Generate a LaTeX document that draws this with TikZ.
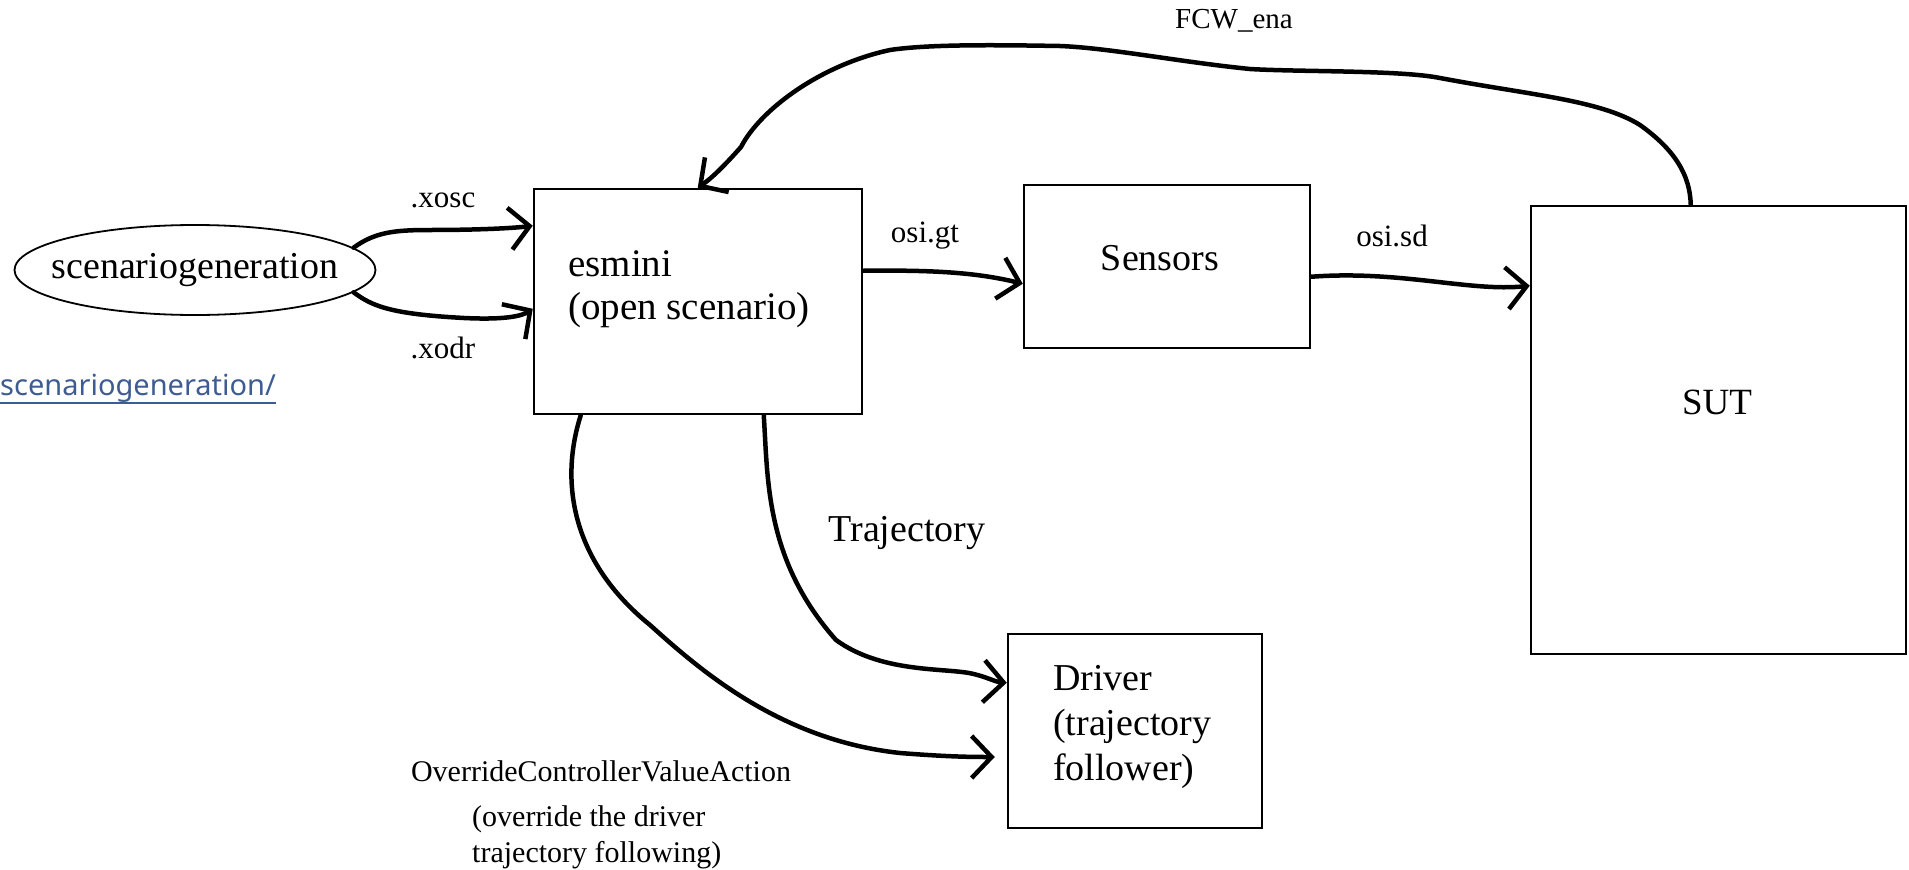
\documentclass[tikz,border=0pt]{standalone}
\usepackage{fontspec}
\setmainfont{Liberation Serif}
\newfontfamily\linkfont{Noto Sans}
\usetikzlibrary{shapes.geometric,arrows.meta,calc}
\definecolor{linkblue}{HTML}{3E5C91}

\begin{document}
\begin{tikzpicture}[x=1pt,y=-1pt,
    box/.style={draw, line width=2.5pt, inner sep=0pt},
    lbl/.style={inner sep=0pt, font=\fontsize{31}{37}\selectfont},
    boxtxt/.style={inner sep=0pt, align=left, font=\fontsize{38}{45}\selectfont},
    conn/.style={line width=4.5pt, line cap=round, line join=round,
                 -{Straight Barb[length=20pt,width=42pt]}}]
\useasboundingbox (0,0) rectangle (1909,870);

% the blocks
\node[draw, ellipse, line width=1.8pt, minimum width=361pt, minimum height=90pt,
      inner sep=0pt] (scen) at (195,270) {};
\node[box, minimum width=328pt, minimum height=225pt] (esmini) at (698,301.5) {};
\node[box, minimum width=286pt, minimum height=163pt] (sensors) at (1167,266.5) {};
\node[box, minimum width=375pt, minimum height=448pt] (sut) at (1718.5,430) {};
\node[box, minimum width=254pt, minimum height=194pt] (driver) at (1135,731) {};

% texts in the blocks
\node[boxtxt] (scentxt) at (scen.center) {scenariogeneration};
\node[boxtxt, anchor=west, font=\fontsize{39}{43}\selectfont] (esminitxt) at (568,289) {esmini\\(open scenario)};
\node[boxtxt] (sensorstxt) at (1160,258) {Sensors};
\node[boxtxt, font=\fontsize{37}{44}\selectfont] (suttxt) at (1717,402) {SUT};
\node[boxtxt, anchor=west] (drivertxt) at (1053,727) {Driver\\(trajectory\\follower)};

% link below the ellipse
\node[anchor=west, inner sep=0pt, text=linkblue, font=\linkfont\fontsize{29}{34}\selectfont] (link) at (0,388) {scenariogeneration/};
\draw[linkblue, line width=1.6pt] ([yshift=-8pt]link.base west) -- ([yshift=-8pt]link.base east);

% connector labels
\node[lbl] (xosc) at (443,200) {.xosc};
\node[lbl] (xodr) at (443,348) {.xodr};
\node[lbl] (osigt) at (925,236) {osi.gt};
\node[lbl] (osisd) at (1392,236) {osi.sd};
\node[lbl, font=\fontsize{29}{34}\selectfont] (fcw) at (1234,21) {FCW\_ena};
\node[lbl, font=\fontsize{38}{45}\selectfont] (traj) at (907,533) {Trajectory};
\node[lbl, font=\fontsize{30}{36}\selectfont] (ovr) at (601,771) {OverrideControllerValueAction};
\node[lbl, anchor=west, align=left, font=\fontsize{30}{36}\selectfont] (ovrnote) at (472,837) {(override the driver\\trajectory following)};

% hand drawn connectors
\draw[conn] (scen.8) .. controls (375,232) and (395,230) .. (430,230)
    .. controls (480,230) and (515,228) .. ($(esmini.north west)+(0,38)$);
\draw[conn] (scen.-8) .. controls (372,306) and (390,314) .. (464,318)
    .. controls (505,320) and (522,316) .. ($(esmini.north west)+(0,121)$);
\draw[conn] ($(esmini.north east)+(0,83)$) .. controls (930,270) and (975,272) .. ($(sensors.north west)+(0,100)$);
\draw[conn] ($(sensors.north east)+(0,93)$) .. controls (1400,270) and (1470,292) .. ($(sut.north west)+(0,81)$);
\draw[conn] ($(sut.north west)+(161,0)$) .. controls (1690,175) and (1675,150) .. (1640,125)
    .. controls (1600,100) and (1530,95) .. (1440,78)
    .. controls (1400,70) and (1300,72) .. (1250,69)
    .. controls (1180,62) and (1110,48) .. (1060,46)
    .. controls (1000,45) and (930,44) .. (890,50)
    .. controls (820,65) and (760,110) .. (741,147)
    .. controls (725,165) and (712,178) .. ($(esmini.north west)+(165,0)$);
\draw[conn] ($(esmini.south west)+(231,0)$) .. controls (768,480) and (765,560) .. (836,640)
    .. controls (880,672) and (940,668) .. (969,673)
    .. controls (985,676) and (995,682) .. ($(driver.north west)+(0,50)$);
\draw[conn] ($(esmini.south west)+(48,0)$) .. controls (560,480) and (570,560) .. (650,625)
    .. controls (700,670) and (780,740) .. (900,753)
    .. controls (950,757) and (975,757) .. ($(driver.west)+(-12,26)$);
\end{tikzpicture}
\end{document}
